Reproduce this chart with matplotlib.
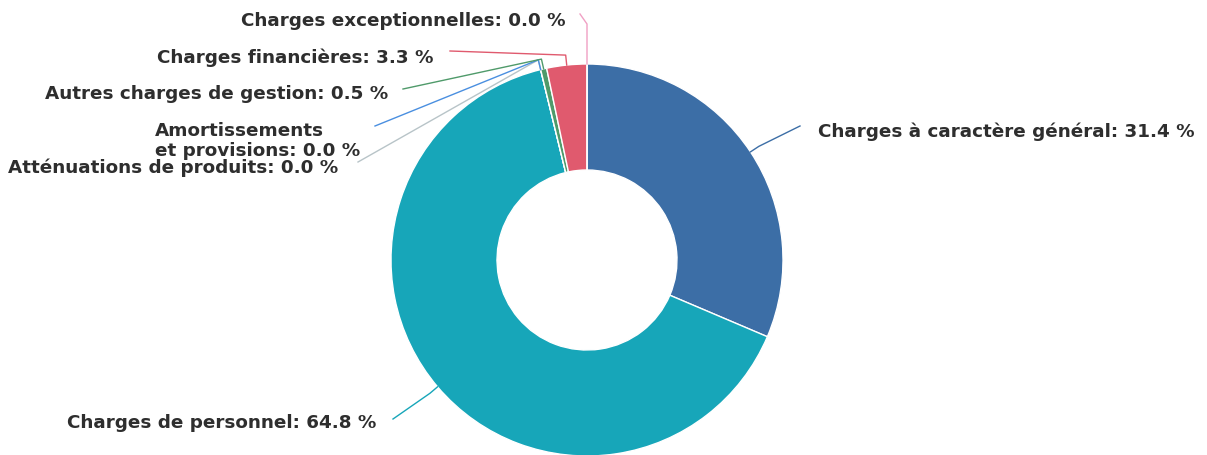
import matplotlib.pyplot as plt
import numpy as np

# Données du graphique (sens horaire depuis le haut)
categories = [
    "Charges à caractère général",
    "Charges de personnel",
    "Atténuations de produits",
    "Amortissements\net provisions",
    "Autres charges de gestion",
    "Charges financières",
    "Charges exceptionnelles",
]
parts = [31.4, 64.8, 0.0, 0.0, 0.5, 3.3, 0.0]
colors = ["#3c6ea6", "#17a6b9", "#b8c4c8", "#4a8fe0", "#4f9a6a", "#e05a6e", "#f0a0c4"]

W, H = 1207, 456
cx, cy = 587, 261          # centre en pixels (origine en haut)
r_out, r_in = 196, 90

# position des étiquettes (pixels, origine en haut) :
# x ancre, y, alignement, bout du connecteur, longueur du segment radial
label_layout = [
    (818, 132, "left", (800, 127), 10),
    (376, 423, "right", (393, 420), 10),
    (338, 168, "right", (358, 163), 10),
    (360, 141, "right", (375, 127), 10),
    (388, 94, "right", (403, 90), 10),
    (433, 58, "right", (450, 52), 10),
    (566, 21, "right", (580, 15), 40),
]

fig = plt.figure(figsize=(W / 100, H / 100), dpi=100)
ax = fig.add_axes([0, 0, 1, 1])

wedges, _ = ax.pie(
    parts, colors=colors, startangle=90, counterclock=False,
    radius=r_out, center=(cx, H - cy),
    wedgeprops=dict(width=r_out - r_in, edgecolor="white", linewidth=1),
)

for w, name, val, col, (lx, ly, ha, end, knee) in zip(wedges, categories, parts, colors, label_layout):
    mid = np.deg2rad((w.theta1 + w.theta2) / 2)
    p0 = (cx + r_out * np.cos(mid), H - cy + r_out * np.sin(mid))
    p1 = (cx + (r_out + knee) * np.cos(mid), H - cy + (r_out + knee) * np.sin(mid))
    p2 = (end[0], H - end[1])
    ax.plot([p0[0], p1[0], p2[0]], [p0[1], p1[1], p2[1]], color=col, lw=1)
    ax.text(lx, H - ly, f"{name}: {val:.1f} %", ha=ha, va="center",
            multialignment="left", fontsize=13.2, fontweight="bold",
            color="#2e2e2e", family="DejaVu Sans", linespacing=1.15)

ax.set_xlim(0, W)
ax.set_ylim(0, H)
ax.set_aspect("equal")
ax.axis("off")

fig.savefig("out.png", dpi=100, facecolor="white")
